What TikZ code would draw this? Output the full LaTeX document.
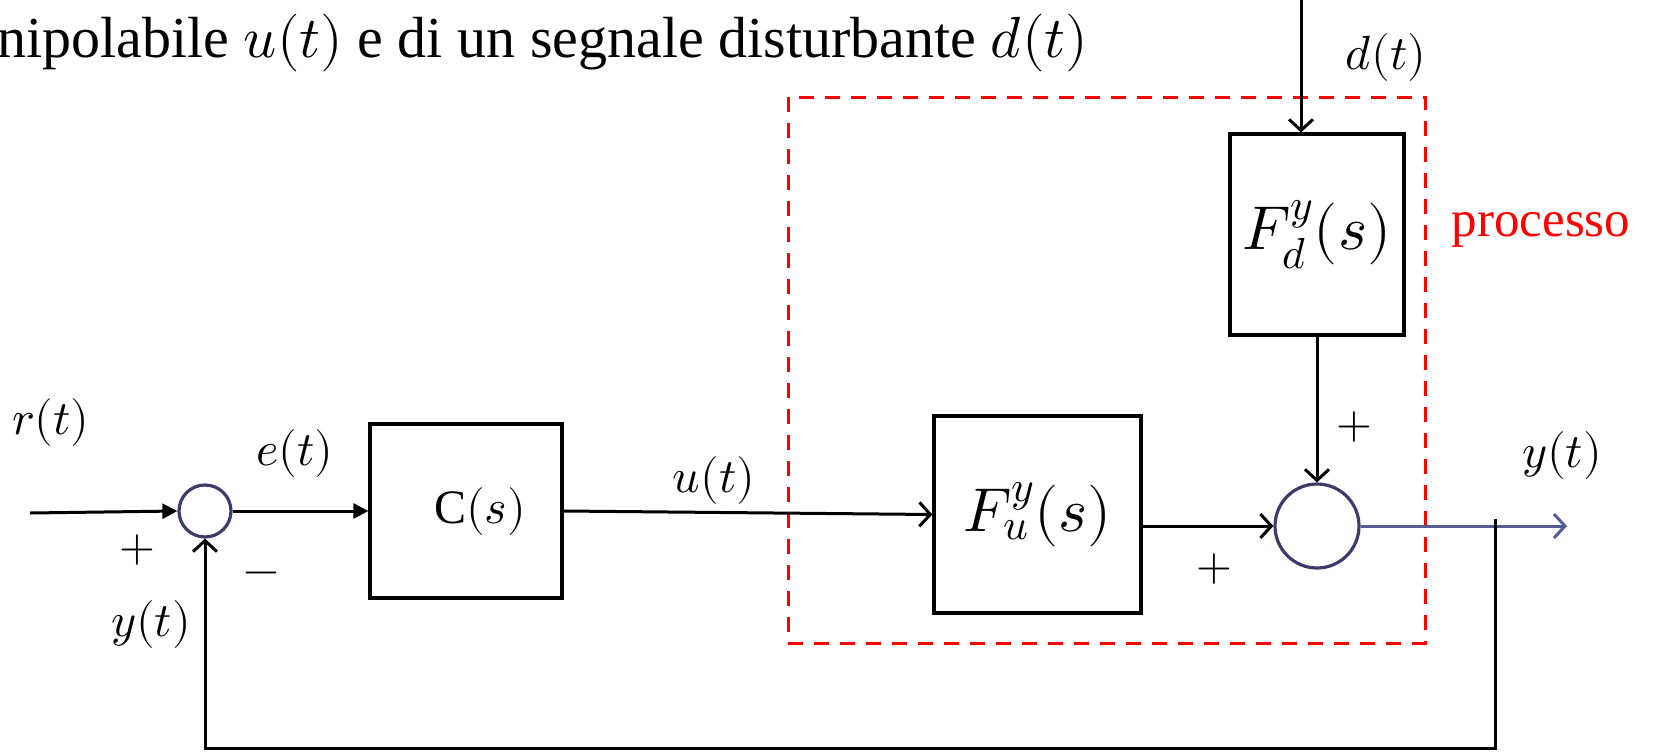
\documentclass[tikz,border=0pt]{standalone}
\usepackage{fontspec}
\usepackage{unicode-math}
\setmainfont{Liberation Serif}
\usetikzlibrary{arrows.meta,calc,positioning}
\definecolor{sumNavy}{HTML}{3C3C6C}
\definecolor{outBlue}{HTML}{575A93}
\definecolor{procRed}{HTML}{FF0000}

\begin{document}
\begin{tikzpicture}[x=1pt,y=-1pt,
    box/.style={draw,line width=3.2pt,inner sep=0pt},
    sumnode/.style={draw=sumNavy,circle,line width=3.2pt,inner sep=0pt},
    arrow/.style={-{Straight Barb[length=11pt,width=24pt]},line width=3pt},
    farrow/.style={-{Triangle[length=15pt,width=15pt]},line width=3pt},
    sig/.style={font=\fontsize{48}{52}\selectfont},
    sgn/.style={font=\fontsize{46}{50}\selectfont},
    tf/.style={font=\fontsize{62}{68}\selectfont}]
  \useasboundingbox (0,0) rectangle (1653,752);
  \node[anchor=base west,font=\fontsize{58}{64}\selectfont] (caption) at (-6,58)
    {nipolabile $u(t)$ e di un segnale disturbante $d(t)$};
  \node[draw=procRed,dash pattern=on 15pt off 11pt,line width=3pt,inner sep=0pt,
    minimum width=637pt,minimum height=546pt] (proc) at (1106.5,370) {};
  \node[sumnode,minimum size=52pt] (sum1) at (205,511) {};
  \node[box,sig,minimum width=192pt,minimum height=174pt] (ctrl) at (466,511) {\hspace{28pt}$\mathrm{C}(s)$};
  \node[box,tf,minimum width=207pt,minimum height=197pt] (fu) at (1037.5,514.5) {$F_u^y(s)$};
  \node[box,tf,minimum width=174pt,minimum height=201pt] (fd) at (1317,234.5) {$F_d^y(s)$};
  \node[sumnode,minimum size=84pt] (sum2) at (1317,526) {};
  \coordinate (rin) at (30,513);
  \coordinate (dtop) at (1301,0);
  \coordinate (yout) at (1567,527);
  \coordinate (branch) at (1495,519);
  \coordinate (fbk) at (1495,748);
  \draw[farrow] (rin) -- (sum1.west);
  \draw[farrow] (sum1.east) -- (ctrl.west);
  \draw[arrow] (ctrl.east) -- (fu.west);
  \draw[arrow] (fu.east |- sum2.west) -- (sum2.west);
  \draw[arrow] (fd.south) -- (sum2.north);
  \draw[arrow] (dtop) -- (dtop |- fd.north);
  \draw[arrow,outBlue] (sum2.east) -- (sum2.east -| yout);
  \draw[arrow] (branch) -- (fbk) -| (sum1.south);
  \node[sig] (rlab) at (51,422) {$r(t)$};
  \node[sgn] (p1) at (137,550) {$+$};
  \node[sgn] (m1) at (261,578) {$-$};
  \node[sig] (yfb) at (151,624) {$y(t)$};
  \node[sig] (elab) at (295,453) {$e(t)$};
  \node[sig] (ulab) at (714,480) {$u(t)$};
  \node[sgn] (p2) at (1214,569) {$+$};
  \node[sgn] (p3) at (1354,427) {$+$};
  \node[sig] (dlab) at (1386,58) {$d(t)$};
  \node[sig] (ylab) at (1562,455) {$y(t)$};
  \node[font=\fontsize{51}{58}\selectfont,text=procRed] (plab) at (1541,230) {processo};
\end{tikzpicture}
\end{document}
